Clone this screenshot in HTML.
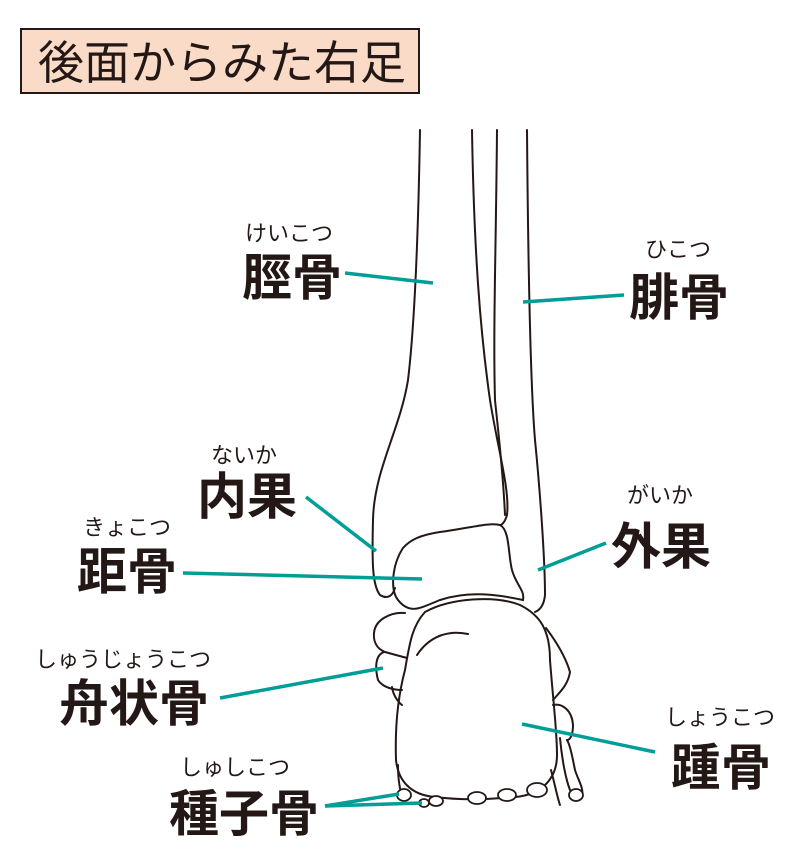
<!DOCTYPE html>
<html><head><meta charset="utf-8"><style>
body{margin:0;background:#fff;}
svg{display:block}
text{font-family:"Liberation Sans","Noto Sans CJK JP",sans-serif;fill:#231815}
.b{font-size:50px;font-weight:bold}
.f{font-size:22px}
</style></head><body>
<svg width="800" height="856" viewBox="0 0 800 856">
<rect x="21" y="29" width="398" height="64" fill="#fadbc8" stroke="#231815" stroke-width="2"/>
<text x="38" y="79" font-size="46">後面からみた右足</text>
<g fill="none" stroke="#231815" stroke-width="2" stroke-linecap="round">
<path d="M420,130 C418,250 414,330 408,380 C400,430 374,470 373,520 C372,560 372,585 380,595 C388,600 393,595 395,588"/>
<path d="M472,130 C474,250 480,330 490,400 C498,450 510,490 507,515 C505,522 502,525 500,525"/>
<path d="M497,130 C496,250 493,330 495,400 C498,430 503,470 505,515"/>
<path d="M527,130 C528,250 530,380 535,440 C540,490 545,560 545,595 C544,605 540,610 535,612"/>
<path d="M403,548 C410,540 420,535 440,532 C470,528 490,522 500,525 C510,530 508,555 512,570 C516,585 525,590 523,600 C500,595 470,590 440,600 C420,608 410,615 398,600 C390,590 392,565 403,548 Z"/>
<path d="M405,613 C390,612 375,620 374,633 C373,645 380,650 385,652 L407,658"/>
<path d="M384,652 C375,655 375,668 378,680 C383,688 395,690 402,690"/>
<path d="M392,687 C393,695 398,702 402,705"/>
<path d="M425,612 C450,598 495,595 520,605 C540,615 550,630 550,660 C553,700 557,730 557,755 C557,780 540,795 515,797 C480,800 460,800 435,797 C410,795 398,780 396,760 C395,730 397,700 405,670 C410,640 413,625 425,612 Z"/>
<path d="M417,655 C430,635 450,630 468,634"/>
<path d="M546,628 C555,640 565,655 570,672 C568,685 560,692 553,700"/>
<path d="M553,705 C562,703 572,710 573,725 C573,735 570,740 567,740"/>
<path d="M560,738 C562,760 566,780 570,790 C575,800 580,802 582,796 C584,788 578,780 575,770 C572,755 570,745 567,740"/>
<path d="M551,770 C555,785 558,800 560,805"/>
<path d="M398,765 C398,780 400,792 403,797"/>
</g>
<g fill="#fff" stroke="#231815" stroke-width="1.8">
<ellipse cx="404" cy="795" rx="7" ry="6"/>
<ellipse cx="424" cy="803" rx="5" ry="4"/>
<ellipse cx="436" cy="801" rx="7" ry="5"/>
<ellipse cx="477" cy="798" rx="9" ry="6"/>
<ellipse cx="507" cy="795" rx="9" ry="6"/>
<ellipse cx="537" cy="790" rx="10" ry="7"/>
<ellipse cx="576" cy="795" rx="7" ry="6"/>
</g>
<g stroke="#009e96" stroke-width="3.5" stroke-linecap="butt">
<line x1="345" y1="273" x2="433" y2="283"/>
<line x1="523" y1="302" x2="624" y2="295"/>
<line x1="306" y1="497" x2="376" y2="551"/>
<line x1="183" y1="573" x2="422" y2="579"/>
<line x1="538" y1="570" x2="606" y2="543"/>
<line x1="220" y1="698" x2="383" y2="668"/>
<line x1="522" y1="724" x2="655" y2="752"/>
<line x1="325" y1="806" x2="399" y2="794"/>
<line x1="325" y1="806" x2="422" y2="803"/>
</g>
<text class="f" x="245" y="241">けいこつ</text>
<text class="b" x="242" y="295">脛骨</text>
<text class="f" x="645" y="257">ひこつ</text>
<text class="b" x="629" y="315">腓骨</text>
<text class="f" x="211" y="463">ないか</text>
<text class="b" x="197" y="514">内果</text>
<text class="f" x="83" y="535">きょこつ</text>
<text class="b" x="77" y="589">距骨</text>
<text class="f" x="627" y="503">がいか</text>
<text class="b" x="611" y="564">外果</text>
<text class="f" x="35" y="667">しゅうじょうこつ</text>
<text class="b" x="59" y="721">舟状骨</text>
<text class="f" x="665" y="725">しょうこつ</text>
<text class="b" x="671" y="785">踵骨</text>
<text class="f" x="180" y="775">しゅしこつ</text>
<text class="b" x="169" y="831">種子骨</text>
</svg>
</body></html>
